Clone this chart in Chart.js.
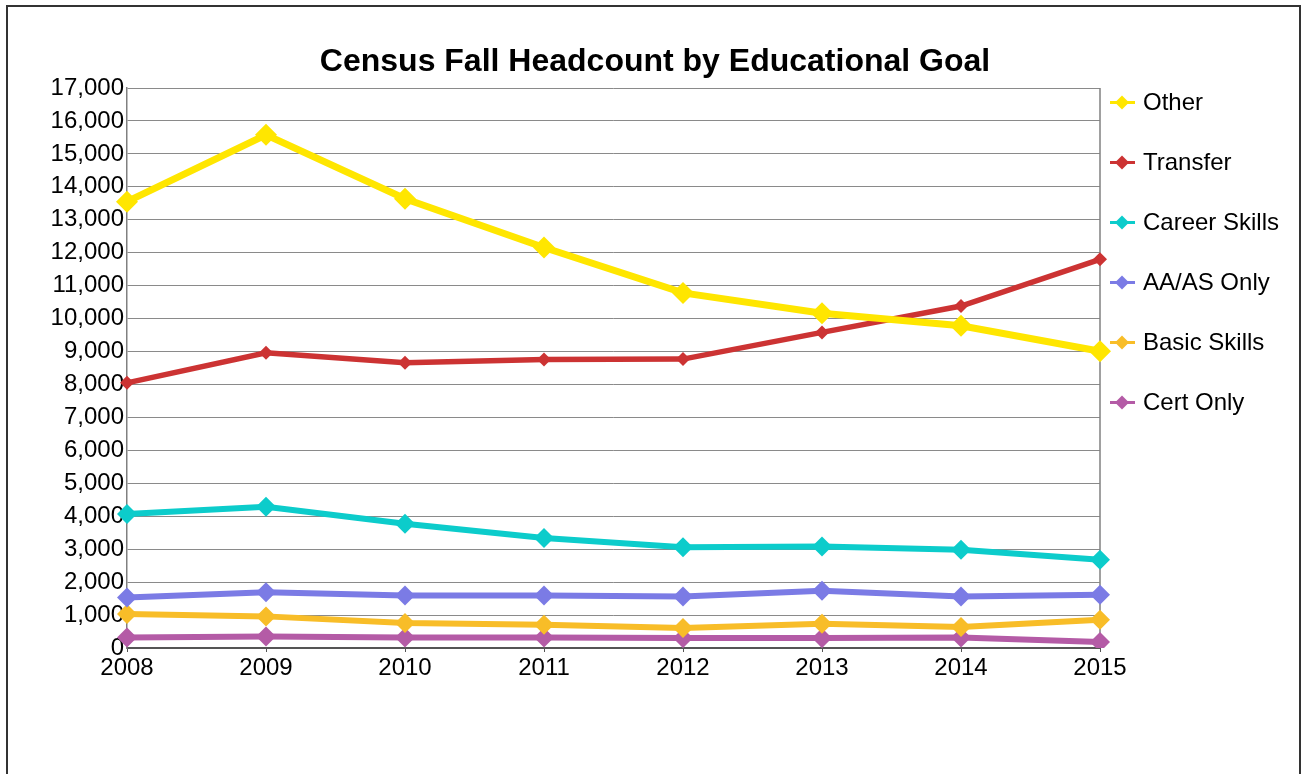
<!DOCTYPE html>
<html>
<head>
<meta charset="utf-8">
<script src="https://cdn.jsdelivr.net/npm/chart.js@4"></script>
<style>
    body { margin: 0; background: #fff; }
    #chart { display: block; }
</style>
</head>
<body>
<canvas id="chart" width="1304" height="774"></canvas>
<script>
// Chart data
const years = ["2008", "2009", "2010", "2011", "2012", "2013", "2014", "2015"];
const other = [13550, 15580, 13640, 12160, 10780, 10160, 9780, 9010];
const transfer = [8050, 8960, 8660, 8760, 8770, 9580, 10380, 11800];
const careerSkills = [4070, 4290, 3770, 3340, 3060, 3080, 2980, 2680];
const aaAsOnly = [1535, 1690, 1590, 1590, 1565, 1740, 1565, 1615];
const basicSkills = [1030, 960, 760, 705, 605, 735, 635, 860];
const certOnly = [320, 350, 320, 320, 300, 300, 320, 180];

const FONT = "'Liberation Sans', Arial, sans-serif";

function series(label, data, color, radius, width) {
    return {
        label: label,
        data: data,
        borderColor: color,
        backgroundColor: color,
        borderWidth: width,
        pointStyle: "rectRot",
        pointRadius: radius,
        pointBorderWidth: 0,
        pointBackgroundColor: color,
        tension: 0,
    };
}

// Outer frame, title, right edge of the plot and the legend
const decorations = {
    id: "decorations",
    beforeDraw(chart) {
        const ctx = chart.ctx;
        ctx.save();
        ctx.fillStyle = "#fff";
        ctx.fillRect(0, 0, chart.width, chart.height);
        ctx.strokeStyle = "#333";
        ctx.lineWidth = 2;
        ctx.beginPath();
        ctx.moveTo(7, 780);
        ctx.lineTo(7, 6);
        ctx.lineTo(1300, 6);
        ctx.lineTo(1300, 780);
        ctx.stroke();

        ctx.fillStyle = "#000";
        ctx.font = "bold 32px " + FONT;
        ctx.textAlign = "center";
        ctx.textBaseline = "alphabetic";
        ctx.fillText("Census Fall Headcount by Educational Goal", 655, 71);
        ctx.restore();
    },
    beforeDatasetsDraw(chart) {
        const ctx = chart.ctx;
        const area = chart.chartArea;
        ctx.save();
        ctx.strokeStyle = "#808080";
        ctx.lineWidth = 1.5;
        ctx.beginPath();
        ctx.moveTo(area.right, area.top);
        ctx.lineTo(area.right, area.bottom);
        ctx.stroke();
        ctx.restore();
    },
    afterDraw(chart) {
        const ctx = chart.ctx;
        ctx.save();
        chart.data.datasets.forEach((ds, i) => {
            const y = 102.5 + 60 * i;
            ctx.strokeStyle = ds.borderColor;
            ctx.lineWidth = 3;
            ctx.beginPath();
            ctx.moveTo(1110, y);
            ctx.lineTo(1135, y);
            ctx.stroke();
            ctx.fillStyle = ds.borderColor;
            ctx.beginPath();
            ctx.moveTo(1122, y - 7);
            ctx.lineTo(1129, y);
            ctx.lineTo(1122, y + 7);
            ctx.lineTo(1115, y);
            ctx.closePath();
            ctx.fill();
            ctx.fillStyle = "#000";
            ctx.font = "24px " + FONT;
            ctx.textAlign = "left";
            ctx.textBaseline = "middle";
            ctx.fillText(ds.label, 1143, y + 1);
        });
        ctx.restore();
    },
};

new Chart(document.getElementById("chart"), {
    type: "line",
    data: {
        labels: years,
        datasets: [
            series("Other", other, "#ffe600", 11, 7),
            series("Transfer", transfer, "#cc3333", 7, 5.5),
            series("Career Skills", careerSkills, "#0ccccb", 10, 6),
            series("AA/AS Only", aaAsOnly, "#7b7be5", 10, 6),
            series("Basic Skills", basicSkills, "#f8bd28", 10, 6),
            series("Cert Only", certOnly, "#b45ba6", 10, 6),
        ],
    },
    options: {
        responsive: false,
        animation: false,
        devicePixelRatio: 1,
        layout: {
            padding: { top: 88, right: 204, bottom: 86, left: 0 },
        },
        plugins: {
            legend: { display: false },
            title: { display: false },
            tooltip: { enabled: false },
        },
        scales: {
            x: {
                offset: false,
                grid: {
                    drawOnChartArea: false,
                    drawTicks: true,
                    tickLength: 4,
                    color: "#555",
                },
                border: { color: "#555", width: 2 },
                ticks: {
                    color: "#000",
                    padding: 2,
                    maxRotation: 0,
                    font: { family: FONT, size: 24 },
                },
                afterFit(scale) {
                    scale.height = 40;
                },
            },
            y: {
                min: 0,
                max: 17000,
                grid: {
                    color: "#8a8a8a",
                    lineWidth: 1,
                    drawTicks: false,
                },
                border: { color: "#808080", width: 1.5 },
                ticks: {
                    stepSize: 1000,
                    color: "#000",
                    padding: 3,
                    font: { family: FONT, size: 24 },
                    callback: (value) => value.toLocaleString("en-US"),
                },
                afterFit(scale) {
                    scale.width = 127;
                },
            },
        },
    },
    plugins: [decorations],
});
</script>
</body>
</html>
